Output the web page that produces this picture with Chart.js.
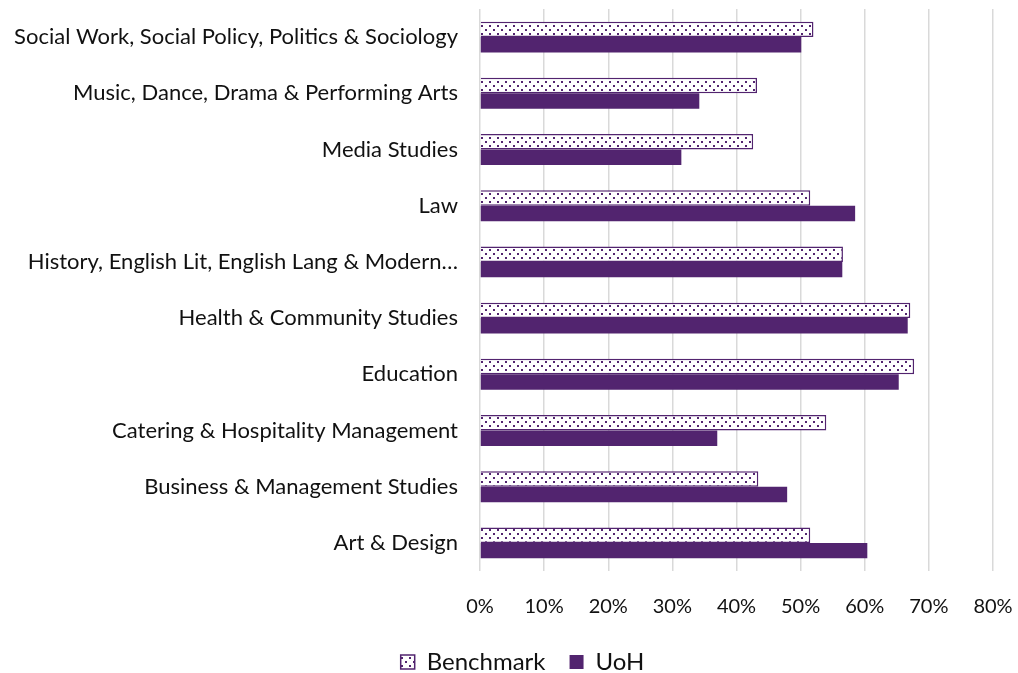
<!DOCTYPE html>
<html>
<head>
<meta charset="utf-8">
<script src="https://cdn.jsdelivr.net/npm/chart.js@4/dist/chart.umd.min.js"></script>
<style>
  html, body { margin: 0; padding: 0; background: #fff; }
  #wrap { width: 1018px; height: 673px; position: relative; }
</style>
</head>
<body>
<div id="wrap"><canvas id="c" width="1018" height="673"></canvas></div>
<script>
const categories = [
  "Social Work, Social Policy, Politics & Sociology",
  "Music, Dance, Drama & Performing Arts",
  "Media Studies",
  "Law",
  "History, English Lit, English Lang & Modern\u2026",
  "Health & Community Studies",
  "Education",
  "Catering & Hospitality Management",
  "Business & Management Studies",
  "Art & Design"
];
const benchmark = [0.520, 0.432, 0.426, 0.515, 0.566, 0.671, 0.677, 0.540, 0.434, 0.515];
const uoh       = [0.501, 0.342, 0.314, 0.585, 0.565, 0.667, 0.653, 0.370, 0.479, 0.604];
const xTicks = [0, 0.1, 0.2, 0.3, 0.4, 0.5, 0.6, 0.7, 0.8];

const PURPLE = '#52246f';

// dotted fill: white ground with staggered purple dots
function dotPattern() {
  const t = document.createElement('canvas');
  t.width = 8; t.height = 8;
  const g = t.getContext('2d');
  g.fillStyle = '#fff';
  g.fillRect(0, 0, 8, 8);
  g.fillStyle = PURPLE;
  g.fillRect(1, 1, 2, 2);
  g.fillRect(5, 5, 2, 2);
  return g.createPattern(t, 'repeat');
}
const dots = dotPattern();

const FONT = "Lato, 'Open Sans', sans-serif";

// centre the legend under the plot area rather than the whole canvas
const legendShift = {
  id: 'legendShift',
  afterLayout(chart) {
    const lg = chart.legend;
    if (!lg) return;
    const dx = 26;
    lg.left += dx;
    lg.right += dx;
    (lg.legendHitBoxes || []).forEach(b => { b.left += dx; });
  }
};

new Chart(document.getElementById('c'), {
  type: 'bar',
  data: {
    labels: categories,
    datasets: [
      {
        label: 'Benchmark',
        data: benchmark,
        backgroundColor: dots,
        borderColor: PURPLE,
        borderWidth: 1.5,
        borderSkipped: 'start',
        categoryPercentage: 0.55,
        barPercentage: 1.0
      },
      {
        label: 'UoH',
        data: uoh,
        backgroundColor: PURPLE,
        borderWidth: 0,
        categoryPercentage: 0.55,
        barPercentage: 1.0
      }
    ]
  },
  plugins: [legendShift],
  options: {
    indexAxis: 'y',
    responsive: false,
    animation: false,
    devicePixelRatio: 1,
    layout: { padding: { top: 9, right: 25, bottom: -11, left: 0 } },
    scales: {
      x: {
        min: 0,
        max: 0.8,
        afterBuildTicks: (axis) => { axis.ticks = xTicks.map(v => ({ value: v })); },
        afterFit: (axis) => { axis.height = 55; axis.paddingLeft = 0; axis.paddingRight = 0; },
        ticks: {
          color: '#111',
          font: { family: FONT, size: 20 },
          padding: 24,
          maxRotation: 0,
          callback: (v) => Math.round(v * 100) + '%'
        },
        grid: { color: '#d9d9d9', lineWidth: 1.5, drawTicks: false },
        border: { display: false }
      },
      y: {
        afterFit: (axis) => { axis.width = 480; axis.paddingTop = 0; axis.paddingBottom = 0; },
        ticks: {
          color: '#111',
          font: { family: FONT, size: 22 },
          padding: 22,
          autoSkip: false
        },
        grid: { display: false, drawTicks: false },
        border: { display: false }
      }
    },
    plugins: {
      legend: {
        position: 'bottom',
        labels: {
          color: '#111',
          font: { family: FONT, size: 24 },
          boxWidth: 14,
          boxHeight: 14,
          padding: 24
        }
      },
      tooltip: { enabled: false }
    }
  }
});
</script>
</body>
</html>
